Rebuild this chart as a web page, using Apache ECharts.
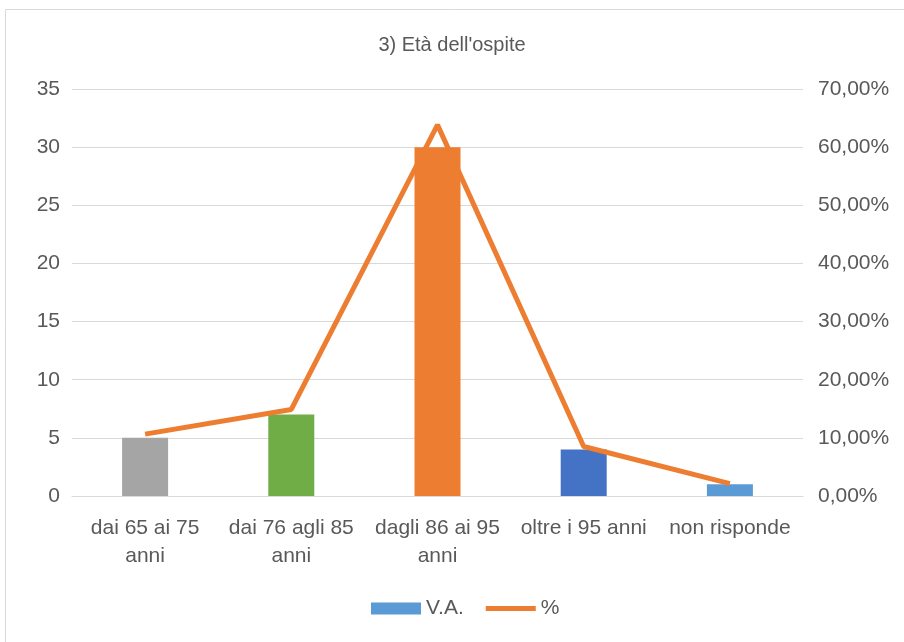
<!DOCTYPE html>
<html><head><meta charset="utf-8">
<script src="https://cdn.jsdelivr.net/npm/echarts@6/dist/echarts.min.js"></script>
<style>html,body{margin:0;padding:0;background:#fff}#c{width:904px;height:642px}</style>
</head><body><div id="c"></div>
<script>
var categories = ['dai 65 ai 75\nanni', 'dai 76 agli 85\nanni', 'dagli 86 ai 95\nanni', 'oltre i 95 anni', 'non risponde'];
var vaValues = [5, 7, 30, 4, 1];
var pctValues = [10.64, 14.89, 63.83, 8.51, 2.13];
var barColors = ['#A5A5A5', '#70AD47', '#ED7D31', '#4472C4', '#5B9BD5'];
var leftTicks = {min: 0, max: 35, interval: 5};
var rightTicks = {min: 0, max: 70, interval: 10};

var FONT = "'Liberation Sans', sans-serif";
var TXT = '#595959';
var chart = echarts.init(document.getElementById('c'));
chart.setOption({
  animation: false,
  textStyle: {fontFamily: FONT},
  graphic: [{type: 'rect', shape: {x: 5.5, y: 9.5, width: 1000, height: 1000}, style: {fill: 'none', stroke: '#D9D9D9', lineWidth: 1}, silent: true}],
  title: {text: "3) Età dell'ospite", left: 'center', top: 30, textStyle: {fontFamily: FONT, fontSize: 20, fontWeight: 'normal', color: TXT}},
  legend: {
    top: 593, left: 366, itemGap: 22, itemWidth: 50, itemHeight: 12,
    textStyle: {fontFamily: FONT, fontSize: 21, color: TXT},
    data: [{name: 'V.A.', icon: 'rect', itemStyle: {color: '#5B9BD5'}}, {name: '%', icon: 'path://M0,0 L10,0 L10,1 L0,1 Z', itemStyle: {color: '#ED7D31'}}]
  },
  grid: {left: 72, right: 101, top: 89, bottom: 146},
  xAxis: {
    type: 'category', data: categories,
    axisLine: {lineStyle: {color: '#D9D9D9', width: 1}}, axisTick: {show: false},
    axisLabel: {fontFamily: FONT, fontSize: 21, color: TXT, lineHeight: 28, margin: 18, interval: 0}
  },
  yAxis: [
    {type: 'value', min: leftTicks.min, max: leftTicks.max, interval: leftTicks.interval,
     axisLine: {show: false}, axisTick: {show: false},
     axisLabel: {fontFamily: FONT, fontSize: 21, color: TXT, margin: 12},
     splitLine: {lineStyle: {color: '#D9D9D9', width: 1}}},
    {type: 'value', min: rightTicks.min, max: rightTicks.max, interval: rightTicks.interval,
     axisLine: {show: false}, axisTick: {show: false},
     axisLabel: {fontFamily: FONT, fontSize: 21, color: TXT, margin: 15, formatter: function (v) { return v.toFixed(2).replace('.', ',') + '%'; }},
     splitLine: {show: false}}
  ],
  series: [
    {name: 'V.A.', type: 'bar', barWidth: 46, itemStyle: {color: '#5B9BD5'},
     data: vaValues.map(function (v, i) { return {value: v, itemStyle: {color: barColors[i]}}; })},
    {name: '%', type: 'line', yAxisIndex: 1, data: pctValues, symbol: 'none',
     lineStyle: {color: '#ED7D31', width: 5}, itemStyle: {color: '#ED7D31'}}
  ]
});
</script></body></html>
